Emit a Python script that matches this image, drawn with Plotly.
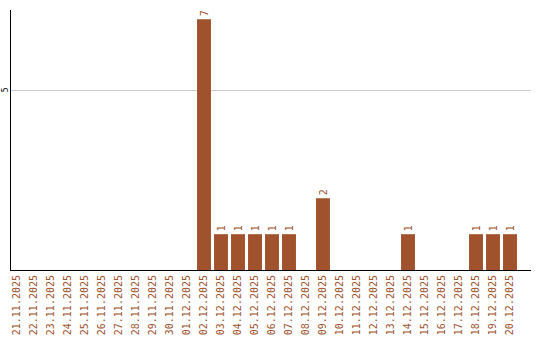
import plotly.graph_objects as go

dates = ["21.11.2025","22.11.2025","23.11.2025","24.11.2025","25.11.2025","26.11.2025",
         "27.11.2025","28.11.2025","29.11.2025","30.11.2025","01.12.2025","02.12.2025",
         "03.12.2025","04.12.2025","05.12.2025","06.12.2025","07.12.2025","08.12.2025",
         "09.12.2025","10.12.2025","11.12.2025","12.12.2025","13.12.2025","14.12.2025",
         "15.12.2025","16.12.2025","17.12.2025","18.12.2025","19.12.2025","20.12.2025"]
counts = [0,0,0,0,0,0,0,0,0,0,0,7,1,1,1,1,1,0,2,0,0,0,0,1,0,0,0,1,1,1]
labels = [str(c) if c > 0 else "" for c in counts]

color = "#A0522D"

fig = go.Figure(go.Bar(
    x=dates, y=counts, text=labels, textposition="outside", textangle=-90,
    textfont=dict(family="DejaVu Sans Mono", size=10, color=color),
    marker=dict(color=color, line=dict(width=0)), width=0.82, cliponaxis=False,
))

fig.update_layout(
    width=540, height=340, margin=dict(l=11, r=9, t=10, b=70, autoexpand=False),
    plot_bgcolor="white", paper_bgcolor="white", showlegend=False,
    xaxis=dict(type="category", range=[-0.353, 30.235], showline=True, linecolor="black",
               linewidth=1, showgrid=False, tickangle=-90, ticks="", automargin=False,
               tickfont=dict(family="DejaVu Sans Mono", size=10, color=color)),
    yaxis=dict(range=[0, 7.26], tickvals=[5], showline=True, linecolor="black", linewidth=1,
               showgrid=True, gridcolor="#cccccc", zeroline=False, ticks="", automargin=False,
               tickangle=-90, ticklabelstandoff=-1,
               tickfont=dict(family="DejaVu Sans Mono", size=8, color="black")),
)

fig.write_html("out.html")
